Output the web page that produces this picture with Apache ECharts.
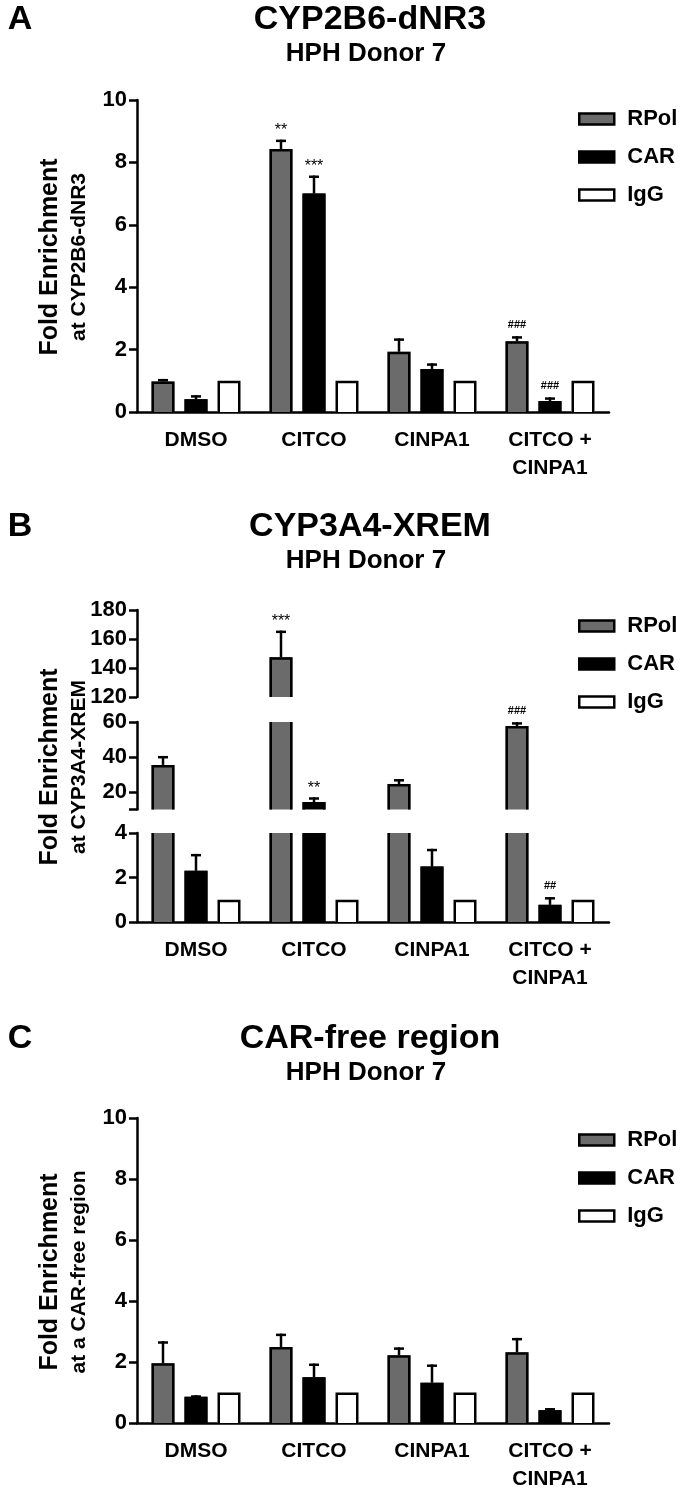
<!DOCTYPE html>
<html>
<head>
<meta charset="utf-8">
<script src="https://cdn.jsdelivr.net/npm/echarts@6/dist/echarts.min.js"></script>
<style>
  html, body { margin: 0; padding: 0; background: #fff; }
  #chart { width: 689px; height: 1493px; }
</style>
</head>
<body>
<div id="chart"></div>
<script>
// categories and series names
const categories = ['DMSO', 'CITCO', 'CINPA1', 'CITCO +\nCINPA1'];
const seriesNames = ['RPol', 'CAR', 'IgG'];

// panel A: CYP2B6-dNR3
const aRPol = [0.98, 8.43, 1.93, 2.27];
const aRPolErr = [0.08, 0.30, 0.43, 0.16];
const aCAR = [0.41, 7.00, 1.38, 0.35];
const aCARErr = [0.13, 0.58, 0.18, 0.12];
const aIgG = [1, 1, 1, 1];
const aRPolMarks = ['', '**', '', '###'];
const aCARMarks = ['', '***', '', '###'];

// panel B: CYP3A4-XREM (broken axis)
const bRPol = [35.5, 147.5, 24.6, 57.7];
const bRPolErr = [5.1, 18.3, 2.8, 2.2];
const bCAR = [2.3, 14.3, 2.49, 0.77];
const bCARErr = [0.76, 2.7, 0.8, 0.35];
const bIgG = [1, 1, 1, 1];
const bRPolMarks = ['', '***', '', '###'];
const bCARMarks = ['', '**', '', '##'];

// panel C: CAR-free region
const cRPol = [1.96, 2.49, 2.22, 2.32];
const cRPolErr = [0.72, 0.44, 0.26, 0.47];
const cCAR = [0.86, 1.50, 1.32, 0.42];
const cCARErr = [0.05, 0.45, 0.60, 0.07];
const cIgG = [1, 1, 1, 1];

const noErr = [0, 0, 0, 0];
const noMarks = ['', '', '', ''];

const FONT = "'Liberation Sans', Arial, Helvetica, sans-serif";
const colors = { RPol: '#6b6b6b', CAR: '#000000', IgG: '#ffffff' };
const offsets = { RPol: -33, CAR: 0, IgG: 33 };

const chart = echarts.init(document.getElementById('chart'), null, { renderer: 'canvas' });

// bars drawn by hand so that cut ends (broken axis) stay open
function barRenderer(name, errs, marks) {
  return function (params, api) {
    const i = api.value(0);
    const v = api.value(1);
    const cs = params.coordSys;
    const top = cs.y, bottom = cs.y + cs.height;
    const base = api.coord([i, 0]);
    const cx = base[0] + offsets[name];
    const yv = api.coord([i, v])[1];
    if (yv >= bottom - 0.5) return null;
    const y0 = Math.min(base[1], bottom);
    const cut = yv < top;
    const y1 = cut ? top : yv;
    const half = 11.5, lw = 2.5;
    const L = cx - half + lw / 2, R = cx + half - lw / 2;
    const stroke = { stroke: '#000', lineWidth: lw, fill: null };
    const children = [{
      type: 'rect',
      shape: { x: cx - half, y: y1, width: half * 2, height: y0 - y1 },
      style: { fill: colors[name] }
    }];
    if (cut) {
      children.push({ type: 'line', shape: { x1: L, y1: y1, x2: L, y2: y0 }, style: stroke });
      children.push({ type: 'line', shape: { x1: R, y1: y1, x2: R, y2: y0 }, style: stroke });
    } else {
      children.push({
        type: 'polyline',
        shape: { points: [[L, y0], [L, y1 + lw / 2], [R, y1 + lw / 2], [R, y0]] },
        style: stroke
      });
      let yTop = y1;
      if (errs[i] > 0) {
        const ye = api.coord([i, v + errs[i]])[1];
        children.push({ type: 'line', shape: { x1: cx, y1: y1, x2: cx, y2: ye }, style: stroke });
        children.push({ type: 'line', shape: { x1: cx - 5, y1: ye + lw / 2, x2: cx + 5, y2: ye + lw / 2 }, style: stroke });
        yTop = ye;
      }
      const m = marks[i];
      if (m) {
        const star = m.charAt(0) === '*';
        children.push({
          type: 'text',
          style: {
            x: cx, y: yTop - (star ? 9 : 11),
            text: m,
            font: (star ? 'normal 16px ' : 'bold 11px ') + FONT,
            fill: '#000',
            align: 'center', verticalAlign: 'middle'
          }
        });
      }
    }
    return { type: 'group', children: children };
  };
}

function barSeries(name, values, errs, marks, axisIndex) {
  return {
    type: 'custom',
    name: name,
    xAxisIndex: axisIndex,
    yAxisIndex: axisIndex,
    itemStyle: { color: colors[name] },
    encode: { x: 0, y: 1 },
    data: values.map((v, i) => [i, v]),
    renderItem: barRenderer(name, errs, marks)
  };
}

const axisLineStyle = { color: '#000', width: 2.5 };
const labelStyle = { color: '#000', fontFamily: FONT, fontWeight: 'bold' };

function xAxis(gridIndex, show) {
  return {
    type: 'category',
    gridIndex: gridIndex,
    data: categories,
    show: show,
    boundaryGap: true,
    axisLine: { show: true, lineStyle: axisLineStyle },
    axisTick: { show: false },
    axisLabel: Object.assign({ fontSize: 21, margin: 14, lineHeight: 28, interval: 0 }, labelStyle),
    splitLine: { show: false }
  };
}

function yAxis(gridIndex, min, max, interval, extra) {
  const ax = {
    type: 'value',
    gridIndex: gridIndex,
    min: min, max: max,
    axisLine: { show: true, lineStyle: axisLineStyle },
    axisTick: { show: true, inside: false, length: 8, lineStyle: axisLineStyle },
    axisLabel: Object.assign({ fontSize: 22, margin: 10 }, labelStyle),
    splitLine: { show: false }
  };
  if (interval) ax.interval = interval;
  if (extra) {
    ax.axisLabel.customValues = extra.labels;
    ax.axisTick.customValues = extra.ticks;
  }
  return ax;
}

function legend(top) {
  return {
    orient: 'vertical',
    left: 573, top: top,
    icon: 'rect',
    itemWidth: 35, itemHeight: 11, itemGap: 16,
    selectedMode: false,
    itemStyle: { borderColor: '#000', borderWidth: 2.5 },
    textStyle: Object.assign({ fontSize: 22, lineHeight: 21, padding: [0, 0, 0, 8] }, labelStyle),
    data: seriesNames.map(n => ({ name: n, itemStyle: { color: colors[n] } }))
  };
}

function text(x, y, str, font, rotate) {
  return {
    type: 'text', x: x, y: y, rotation: rotate ? Math.PI / 2 : 0,
    style: { text: str, font: font, fill: '#000', align: 'center', verticalAlign: 'middle' }
  };
}

const grids = [
  { left: 137, width: 472, top: 100, height: 312 },   // A
  { left: 137, width: 472, top: 610, height: 87 },    // B top
  { left: 137, width: 472, top: 722, height: 87.5 },  // B middle
  { left: 137, width: 472, top: 833, height: 89 },    // B bottom
  { left: 137, width: 472, top: 1118, height: 313 }   // C
];

const series = [];
[[aRPol, aRPolErr, aRPolMarks], [aCAR, aCARErr, aCARMarks], [aIgG, noErr, noMarks]].forEach((d, k) =>
  series.push(barSeries(seriesNames[k], d[0], d[1], d[2], 0)));
[1, 2, 3].forEach(g => {
  [[bRPol, bRPolErr, bRPolMarks], [bCAR, bCARErr, bCARMarks], [bIgG, noErr, noMarks]].forEach((d, k) =>
    series.push(barSeries(seriesNames[k], d[0], d[1], d[2], g)));
});
[[cRPol, cRPolErr, noMarks], [cCAR, cCARErr, noMarks], [cIgG, noErr, noMarks]].forEach((d, k) =>
  series.push(barSeries(seriesNames[k], d[0], d[1], d[2], 4)));

const titleFont = 'bold 34px ' + FONT;
const subFont = 'bold 26px ' + FONT;
const nameFont = 'bold 25px ' + FONT;
const name2Font = 'bold 21px ' + FONT;

const option = {
  animation: false,
  backgroundColor: '#fff',
  grid: grids,
  xAxis: [xAxis(0, true), xAxis(1, false), xAxis(2, false), xAxis(3, true), xAxis(4, true)],
  yAxis: [
    yAxis(0, 0, 10, 2),
    yAxis(1, 120, 180, 20),
    yAxis(2, 10, 60, null, { labels: [20, 40, 60], ticks: [10, 20, 40, 60] }),
    yAxis(3, 0, 4, 2),
    yAxis(4, 0, 10, 2)
  ],
  legend: [legend(103), legend(610), legend(1124)],
  graphic: [
    text(20, 20, 'A', titleFont),
    text(370, 20, 'CYP2B6-dNR3', titleFont),
    text(366, 54, 'HPH Donor 7', subFont),
    text(50, 257, 'Fold Enrichment', nameFont, true),
    text(79, 257, 'at CYP2B6-dNR3', name2Font, true),

    text(20, 527, 'B', titleFont),
    text(370, 527, 'CYP3A4-XREM', titleFont),
    text(366, 561, 'HPH Donor 7', subFont),
    text(50, 767, 'Fold Enrichment', nameFont, true),
    text(79, 767, 'at CYP3A4-XREM', name2Font, true),

    text(20, 1039, 'C', titleFont),
    text(370, 1039, 'CAR-free region', titleFont),
    text(366, 1073, 'HPH Donor 7', subFont),
    text(50, 1272, 'Fold Enrichment', nameFont, true),
    text(79, 1272, 'at a CAR-free region', name2Font, true)
  ],
  series: series
};

chart.setOption(option);
</script>
</body>
</html>
